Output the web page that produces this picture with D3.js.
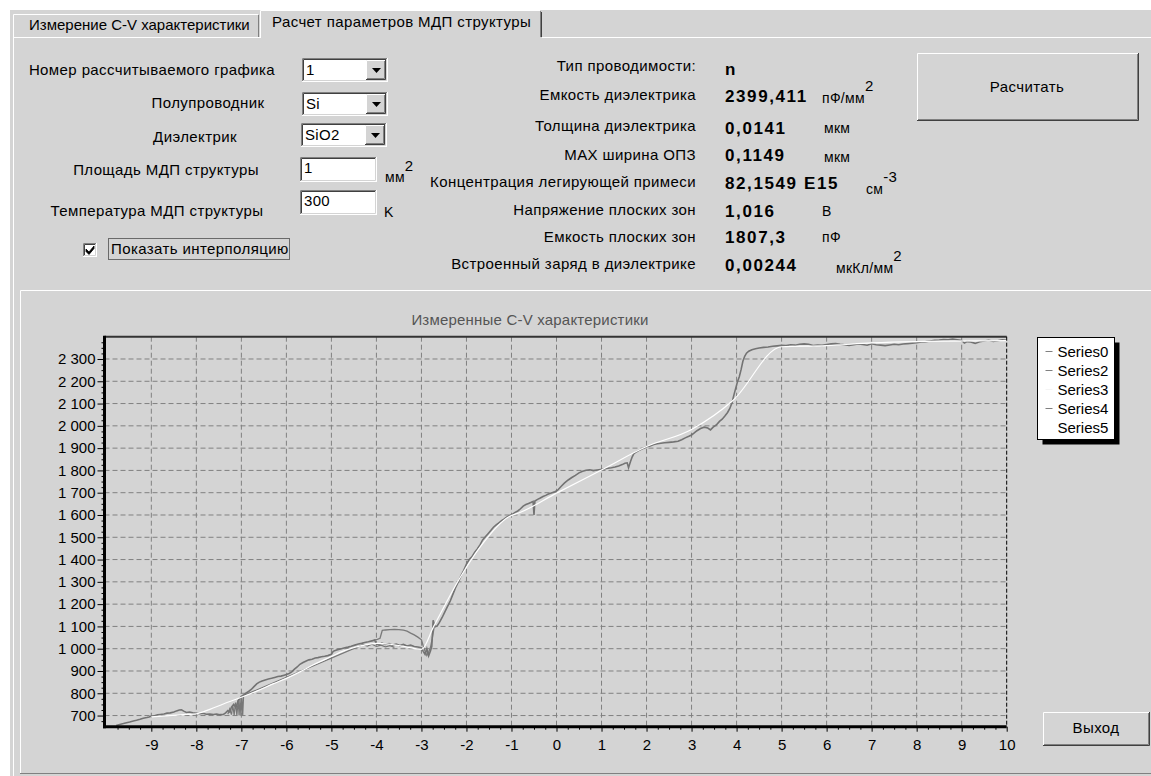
<!DOCTYPE html>
<html>
<head>
<meta charset="utf-8">
<script src="https://cdn.jsdelivr.net/npm/d3@7"></script>
<style>
  body { margin: 0; background: #fff; }
  svg { display: block; font-family: "Liberation Sans", Arial, sans-serif; }
</style>
</head>
<body>
<svg id="form" width="1151" height="776"></svg>
<script>
// ---- form texts ----
const tabTitles = ["Измерение C-V характеристики", "Расчет параметров МДП структуры"];
const inputLabels = ["Номер рассчитываемого графика", "Полупроводник", "Диэлектрик", "Площадь МДП структуры", "Температура МДП структуры"];
const comboValues = ["1", "Si", "SiO2"];
const editValues = ["1", "300"];
const paramLabels = ["Тип проводимости:", "Емкость диэлектрика", "Толщина диэлектрика", "МАХ ширина ОПЗ",
  "Концентрация легирующей примеси", "Напряжение плоских зон", "Емкость плоских зон", "Встроенный заряд в диэлектрике"];
const paramValues = ["n", "2399,411", "0,0141", "0,1149", "82,1549 E15", "1,016", "1807,3", "0,00244"];
const paramUnits = ["", "пФ/мм", "мкм", "мкм", "см", "В", "пФ", "мкКл/мм"];
const paramUnitSup = ["", "2", "", "", "-3", "", "", "2"];

// ---- chart data ----
const chartTitle = "Измеренные C-V характеристики";
const xTickValues = [-9, -8, -7, -6, -5, -4, -3, -2, -1, 0, 1, 2, 3, 4, 5, 6, 7, 8, 9, 10];
const yTickValues = [700, 800, 900, 1000, 1100, 1200, 1300, 1400, 1500, 1600, 1700, 1800, 1900, 2000, 2100, 2200, 2300];
const legendNames = ["Series0", "Series2", "Series3", "Series4", "Series5"];

// measured C-V curve [V, pF]
const series0 = [[-9.78,655],[-9.7,660],[-9.62,664],[-9.55,668],[-9.48,671],[-9.4,676],[-9.33,679],[-9.25,683],[-9.18,688],[-9.1,691],
  [-9.05,694],[-9.0,698],[-8.93,699],[-8.86,703],[-8.8,705],[-8.72,707],[-8.65,711],[-8.58,712],[-8.5,716],[-8.44,721],[-8.38,725],
  [-8.33,726],[-8.28,720],[-8.22,714],[-8.15,716],[-8.08,712],[-8.0,710],[-7.92,708],[-7.85,710],[-7.78,706],[-7.7,707],[-7.62,705],
  [-7.55,707],[-7.48,704],[-7.4,705],[-7.35,712],[-7.3,722],[-7.26,716],[-7.22,738],[-7.17,750],[-7.12,736],[-7.07,768],[-7.03,778],
  [-7.0,786],[-6.95,792],[-6.9,800],[-6.84,808],[-6.78,817],[-6.72,830],[-6.66,842],[-6.6,850],[-6.54,855],[-6.47,860],[-6.4,864],
  [-6.33,867],[-6.26,871],[-6.19,875],[-6.12,877],[-6.05,881],[-6.0,884],[-5.94,889],[-5.88,896],[-5.82,908],[-5.76,918],[-5.7,930],
  [-5.63,938],[-5.56,945],[-5.5,950],[-5.43,953],[-5.36,958],[-5.3,960],[-5.22,964],[-5.15,966],[-5.08,969],[-5.0,975],[-4.96,988],
  [-4.9,993],[-4.84,997],[-4.78,1000],[-4.7,1004],[-4.63,1007],[-4.56,1011],[-4.48,1016],[-4.4,1021],[-4.33,1024],[-4.26,1028],
  [-4.18,1031],[-4.1,1035],[-4.04,1038],[-4.0,1022],[-3.94,1018],[-3.88,1025],[-3.8,1019],[-3.72,1023],[-3.64,1016],[-3.56,1021],
  [-3.48,1014],[-3.4,1019],[-3.32,1012],[-3.24,1016],[-3.16,1010],[-3.08,1008],[-3.0,1004],[-2.96,988],[-2.92,975],[-2.88,1000],
  [-2.84,968],[-2.8,990],[-2.77,1010],[-2.74,1128],[-2.7,1098],[-2.65,1102],[-2.6,1118],[-2.54,1140],[-2.48,1165],[-2.42,1190],
  [-2.36,1214],[-2.3,1245],[-2.24,1275],[-2.18,1300],[-2.12,1328],[-2.06,1352],[-2.0,1380],[-1.94,1400],[-1.88,1412],[-1.82,1432],
  [-1.76,1448],[-1.7,1466],[-1.64,1488],[-1.58,1502],[-1.52,1516],[-1.46,1530],[-1.4,1545],[-1.34,1556],[-1.28,1565],[-1.22,1574],
  [-1.16,1582],[-1.1,1591],[-1.04,1598],[-0.98,1603],[-0.92,1612],[-0.86,1618],[-0.8,1628],[-0.74,1640],[-0.68,1647],[-0.62,1652],
  [-0.56,1657],[-0.52,1661],[-0.5,1600],[-0.48,1663],[-0.42,1670],[-0.36,1676],[-0.3,1683],[-0.24,1688],[-0.18,1694],[-0.1,1700],
  [-0.04,1704],[0.02,1710],[0.1,1728],[0.18,1744],[0.26,1757],[0.34,1768],[0.42,1778],[0.5,1789],[0.58,1796],[0.66,1801],[0.74,1803],
  [0.82,1799],[0.9,1802],[0.98,1804],[1.06,1806],[1.14,1810],[1.22,1812],[1.3,1815],[1.38,1820],[1.46,1826],[1.52,1832],[1.57,1834],
  [1.6,1812],[1.64,1838],[1.68,1860],[1.72,1876],[1.78,1884],[1.85,1892],[1.92,1898],[2.0,1906],[2.08,1910],[2.16,1916],[2.24,1920],
  [2.32,1922],[2.4,1924],[2.5,1926],[2.6,1928],[2.7,1931],[2.78,1938],[2.86,1946],[2.94,1953],[3.0,1959],[3.06,1968],[3.12,1978],
  [3.2,1988],[3.28,1994],[3.36,1990],[3.42,1982],[3.48,1994],[3.55,2004],[3.62,2020],[3.68,2030],[3.74,2044],[3.8,2060],[3.85,2078],
  [3.9,2105],[3.94,2138],[3.98,2168],[4.02,2198],[4.06,2220],[4.1,2252],[4.14,2290],[4.18,2312],[4.22,2326],[4.27,2335],[4.34,2341],
  [4.42,2346],[4.5,2349],[4.6,2352],[4.7,2354],[4.8,2357],[4.9,2359],[5.0,2361],[5.1,2360],[5.2,2364],[5.3,2362],[5.4,2366],
  [5.5,2368],[5.6,2366],[5.7,2360],[5.8,2363],[5.9,2361],[6.0,2365],[6.1,2368],[6.2,2369],[6.3,2366],[6.4,2364],[6.5,2361],
  [6.6,2364],[6.7,2367],[6.8,2365],[6.9,2362],[7.0,2368],[7.1,2364],[7.2,2362],[7.3,2360],[7.4,2363],[7.5,2366],[7.6,2364],
  [7.7,2367],[7.8,2369],[7.9,2371],[8.0,2373],[8.1,2376],[8.2,2378],[8.3,2381],[8.4,2384],[8.5,2385],[8.6,2387],[8.7,2386],
  [8.8,2389],[8.9,2386],[9.0,2383],[9.06,2372],[9.12,2378],[9.2,2376],[9.3,2370],[9.4,2377],[9.5,2381],[9.6,2384],[9.7,2379],
  [9.8,2382],[9.9,2386],[10.0,2384]];

// second measured branch around -4 .. -2.7 V
const series2 = [[-4.06,1038],[-3.98,1042],[-3.92,1047],[-3.89,1068],[-3.87,1082],[-3.8,1084],[-3.7,1086],[-3.6,1087],[-3.5,1086],
  [-3.4,1083],[-3.32,1079],[-3.24,1070],[-3.16,1062],[-3.08,1052],[-3.0,1040],[-2.96,1012],[-2.92,990],[-2.88,970],[-2.84,985],
  [-2.8,1005],[-2.76,1045],[-2.72,1095]];

// interpolation curve (white)
const series3 = [[-9.0,694],[-8.6,700],[-8.2,705],[-8.0,708],[-7.7,728],[-7.4,752],[-7.0,782],[-6.6,815],[-6.3,842],[-6.0,867],
  [-5.7,896],[-5.4,928],[-5.0,965],[-4.75,988],[-4.55,1002],[-4.3,1015],[-4.0,1024],[-3.7,1020],[-3.44,1012],[-3.0,997],[-2.73,1099],
  [-2.13,1323],[-1.69,1458],[-1.06,1592],[-0.8,1612],[0.0,1698],[1.0,1802],[2.0,1907],[3.0,1984],[3.93,2116],[5.0,2355],[6.0,2360],
  [7.0,2372],[8.0,2378],[10.0,2382]];

// jitter of the measurement near -7 V and -4 V
const series4 = [[-7.3,706],[-7.26,730],[-7.22,704],[-7.19,745],[-7.16,702],[-7.13,758],[-7.1,701],[-7.07,768],[-7.05,700],
  [-7.03,776],[-7.01,700],[-6.99,786],[-6.97,701],[-6.95,790],[-4.3,1018],[-4.2,1012],[-4.1,1020],[-4.0,1010],[-3.9,1016],
  [-3.8,1008],[-3.7,1014],[-3.6,1006]];

const W = 1151, H = 776;
const bg = "#d4d4d4";
const svg = d3.select("#form");

// ---- helpers for the window look ----
function edge(g, d, color) {
  g.append("path").attr("d", d).attr("fill", "none").attr("stroke", color).attr("stroke-width", 1);
}
function sunken(g, x0, y0, w, h, fill) {
  g.append("rect").attr("x", x0).attr("y", y0).attr("width", w).attr("height", h).attr("fill", fill || "#fff");
  edge(g, `M${x0 + .5},${y0 + h}V${y0 + .5}H${x0 + w}`, "#808080");
  edge(g, `M${x0 + 1.5},${y0 + h - 1}V${y0 + 1.5}H${x0 + w - 1}`, "#404040");
  edge(g, `M${x0},${y0 + h - .5}H${x0 + w - .5}V${y0}`, "#ffffff");
  edge(g, `M${x0 + 1},${y0 + h - 1.5}H${x0 + w - 1.5}V${y0 + 1}`, bg);
}
function raised(g, x0, y0, w, h) {
  g.append("rect").attr("x", x0).attr("y", y0).attr("width", w).attr("height", h).attr("fill", bg);
  edge(g, `M${x0 + .5},${y0 + h - 1}V${y0 + .5}H${x0 + w - 1}`, "#ffffff");
  edge(g, `M${x0},${y0 + h - .5}H${x0 + w - .5}V${y0}`, "#404040");
  edge(g, `M${x0 + 1},${y0 + h - 1.5}H${x0 + w - 1.5}V${y0 + 1}`, "#808080");
}
function label(g, txt, x0, yc, opts) {
  opts = opts || {};
  return g.append("text").attr("x", x0).attr("y", yc).attr("dy", "0.35em")
    .attr("text-anchor", opts.anchor || "start")
    .attr("font-size", opts.size || 15)
    .attr("font-weight", opts.bold ? "bold" : "normal")
    .attr("letter-spacing", opts.spacing == null ? 0.4 : opts.spacing)
    .attr("fill", opts.color || "#000")
    .text(txt);
}

// ---- window background & tabs ----
svg.append("rect").attr("width", W).attr("height", H).attr("fill", "#fff");
svg.append("rect").attr("x", 10).attr("y", 10).attr("width", W - 10).attr("height", H - 10).attr("fill", bg);
const ui = svg.append("g");
// inactive tab
edge(ui, `M13.5,37V14.5H258`, "#ffffff");
edge(ui, `M258.5,15V37`, "#808080");
label(ui, tabTitles[0], 29, 25, { spacing: 0 });
// active tab
ui.append("rect").attr("x", 260).attr("y", 10).attr("width", 282).attr("height", 28).attr("fill", bg);
edge(ui, `M260.5,38V10.5H540`, "#ffffff");
edge(ui, `M540.5,11V37`, "#808080");
edge(ui, `M541.5,12V37`, "#404040");
label(ui, tabTitles[1], 272, 22);
// page border
edge(ui, `M542,37.5H${W}`, "#ffffff");
edge(ui, `M13,37.5H260`, "#ffffff");
edge(ui, `M13.5,37V${H}`, "#ffffff");

// ---- input block ----
const inLabelX = [152, 208, 195, 166, 157];
const inLabelY = [70, 103, 137, 170, 211];
inputLabels.forEach((t, i) => label(ui, t, inLabelX[i], inLabelY[i], { anchor: "middle" }));

const comboY = [58, 92, 123];
comboValues.forEach((v, i) => {
  const cx = i === 2 ? 301 : 302;
  sunken(ui, cx, comboY[i], 86, 24);
  raised(ui, cx + 64, comboY[i] + 2, 20, 20);
  ui.append("path").attr("d", `M${cx + 70},${comboY[i] + 10}h9l-4.5,5z`).attr("fill", "#000");
  label(ui, v, cx + 4, comboY[i] + 12, { spacing: 0.3 });
});
const editY = [157, 190];
editValues.forEach((v, i) => {
  sunken(ui, 300, editY[i], 77, 25);
  label(ui, v, 304, editY[i] + 11, { spacing: 0.3 });
});
const mm2 = label(ui, "мм", 385, 177, { size: 14, spacing: 0.3 });
mm2.append("tspan").attr("dy", "-0.7em").attr("font-size", 15).text("2");
label(ui, "K", 384, 212, { size: 14 });

// checkbox
sunken(ui, 83, 243, 14, 14);
ui.append("path").attr("d", "M86,249l3,3l5,-6v2.5l-5,6l-3,-3z").attr("fill", "#000").attr("stroke", "#000").attr("stroke-width", 0.8);
label(ui, "Показать интерполяцию", 111, 249);
ui.append("rect").attr("x", 108.5).attr("y", 238.5).attr("width", 181).attr("height", 21)
  .attr("fill", "none").attr("stroke", "#000").attr("stroke-dasharray", "1,1");

// ---- results block ----
const paramY = [66, 95, 126, 155, 182, 210, 237, 264];
const valueY = [69, 96, 128, 155, 183, 211, 237, 265];
const unitX = [0, 822, 824, 824, 866, 822, 822, 836];
const unitY = [0, 98, 128, 157, 189, 211, 237, 268];
paramLabels.forEach((t, i) => label(ui, t, 696, paramY[i], { anchor: "end" }));
paramValues.forEach((v, i) => label(ui, v, 725, valueY[i], { bold: true, size: 17, spacing: 1.6 }));
paramUnits.forEach((u, i) => {
  if (!u) return;
  const t = label(ui, u, unitX[i], unitY[i], { size: 14, spacing: 0.3 });
  if (paramUnitSup[i]) t.append("tspan").attr("dy", "-0.8em").attr("font-size", 15).text(paramUnitSup[i]);
});

// buttons
raised(ui, 917, 53, 222, 68);
label(ui, "Расчитать", 1027, 87, { anchor: "middle" });

// ---- chart panel ----
const panel = svg.append("g");
edge(panel, `M20.5,773V290.5H${W}`, "#ffffff");
edge(panel, `M20,773.5H${W}`, "#808080");

const plot = { left: 104.5, right: 1006.7, top: 336.7, bottom: 726.7 };
const x = d3.scaleLinear().domain([-10.04, 10]).range([plot.left, plot.right]);
const y = d3.scaleLinear().domain([650, 2400]).range([plot.bottom, plot.top]);
const fmt = d3.formatLocale({ decimal: ",", thousands: " ", grouping: [3], currency: ["", ""] }).format(",");

panel.append("text").attr("x", 530).attr("y", 320).attr("dy", "0.35em").attr("text-anchor", "middle")
  .attr("font-size", 15).attr("letter-spacing", 0.2).attr("fill", "#555").text(chartTitle);

// grid
const grid = panel.append("g").attr("stroke", "#808080").attr("stroke-dasharray", "5,3");
grid.selectAll(".gx").data(xTickValues.slice(0, -1)).enter().append("line")
  .attr("x1", d => x(d)).attr("x2", d => x(d)).attr("y1", plot.top).attr("y2", plot.bottom);
grid.selectAll(".gy").data(yTickValues).enter().append("line")
  .attr("x1", plot.left).attr("x2", plot.right).attr("y1", d => y(d)).attr("y2", d => y(d));

// series
panel.append("clipPath").attr("id", "plotClip").append("rect")
  .attr("x", plot.left).attr("y", plot.top).attr("width", plot.right - plot.left).attr("height", plot.bottom - plot.top);
const line = d3.line().x(d => x(d[0])).y(d => y(d[1]));
const sg = panel.append("g").attr("clip-path", "url(#plotClip)").attr("fill", "none");
sg.append("path").datum(series4).attr("d", line).attr("stroke", "#777").attr("stroke-width", 1.2);
sg.append("path").datum(series2).attr("d", line).attr("stroke", "#7a7a7a").attr("stroke-width", 1.3);
sg.append("path").datum(series0).attr("d", line).attr("stroke", "#737373").attr("stroke-width", 1.6);
sg.append("path").datum(series3).attr("d", d3.line().x(d => x(d[0])).y(d => y(d[1])).curve(d3.curveMonotoneX))
  .attr("stroke", "#fff").attr("stroke-width", 1.2);

// frame
panel.append("line").attr("x1", plot.left).attr("x2", plot.right).attr("y1", plot.top).attr("y2", plot.top)
  .attr("stroke", "#333").attr("stroke-width", 2);
panel.append("line").attr("x1", plot.right).attr("x2", plot.right).attr("y1", plot.top).attr("y2", plot.bottom)
  .attr("stroke", "#000").attr("stroke-dasharray", "4,2");

// axes
const minorY = d3.range(675, 2400, 25).filter(v => v % 100 !== 0);
const minorX = d3.range(-9.75, 10, 0.25).filter(v => Math.abs(v - Math.round(v)) > 0.01);
panel.append("g").attr("transform", `translate(${plot.left},0)`)
  .call(d3.axisLeft(y).tickValues(yTickValues).tickSize(7).tickPadding(2).tickFormat(fmt));
panel.append("g").attr("transform", `translate(${plot.left},0)`)
  .call(d3.axisLeft(y).tickValues(minorY).tickSize(3).tickFormat(""));
panel.append("g").attr("transform", `translate(0,${plot.bottom})`)
  .call(d3.axisBottom(x).tickValues(xTickValues).tickSize(5).tickPadding(8).tickFormat(d => String(d)));
panel.append("g").attr("transform", `translate(0,${plot.bottom})`)
  .call(d3.axisBottom(x).tickValues(minorX).tickSize(3).tickFormat(""));
panel.selectAll(".domain").remove();
panel.selectAll(".tick text").attr("font-size", 15).attr("font-family", "Liberation Sans, Arial, sans-serif").attr("fill", "#000");
panel.selectAll(".tick line").attr("stroke", "#000");

panel.append("line").attr("x1", plot.left).attr("x2", plot.left).attr("y1", plot.top - 1).attr("y2", plot.bottom + 1.5)
  .attr("stroke", "#000").attr("stroke-width", 3);
panel.append("line").attr("x1", plot.left - 1.5).attr("x2", plot.right).attr("y1", plot.bottom).attr("y2", plot.bottom)
  .attr("stroke", "#000").attr("stroke-width", 3);

// legend
const lg = panel.append("g").attr("transform", "translate(1037.5,337.5)");
lg.append("rect").attr("x", 5).attr("y", 5).attr("width", 77).attr("height", 102).attr("fill", "#000");
lg.append("rect").attr("width", 77).attr("height", 102).attr("fill", "#fff").attr("stroke", "#000");
const legendColor = ["#808080", "#808080", "#f4f4f4", "#808080", null];
legendNames.forEach((n, i) => {
  const ly = 14 + i * 19;
  if (legendColor[i]) lg.append("line").attr("x1", 8).attr("x2", 15).attr("y1", ly).attr("y2", ly).attr("stroke", legendColor[i]);
  lg.append("text").attr("x", 20).attr("y", ly).attr("dy", "0.35em").attr("font-size", 15).text(n);
});

// exit button
raised(panel, 1043, 712, 107, 34);
label(panel, "Выход", 1096, 728, { anchor: "middle" });
</script>
</body>
</html>
